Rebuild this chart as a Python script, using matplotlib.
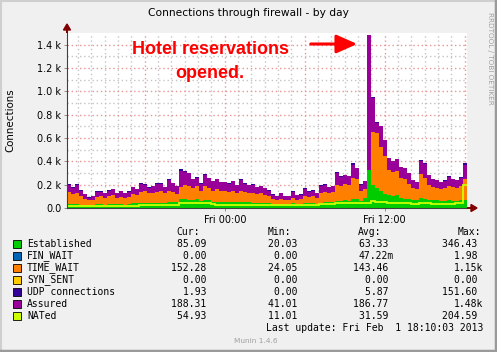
import numpy as np
import matplotlib
matplotlib.use("Agg")
import matplotlib.pyplot as plt
from matplotlib.patches import Rectangle

# samples: 100 steps of 18 min, graph starts Thu 12:10 (30 h window)
assured = [200, 175, 200, 150, 120, 90, 100, 140, 140, 125,
           150, 160, 125, 145, 130, 140, 180, 165, 205, 200,
           175, 185, 210, 210, 180, 240, 215, 185, 320, 310,
           300, 250, 260, 210, 280, 255, 230, 250, 225, 225,
           210, 230, 195, 240, 210, 195, 200, 180, 185, 170,
           150, 115, 100, 125, 105, 100, 140, 110, 115, 160,
           140, 150, 130, 185, 200, 180, 190, 300, 270, 280,
           275, 370, 340, 200, 230, 1480, 940, 730, 700, 580,
           430, 400, 420, 350, 340, 300, 240, 220, 400, 380,
           280, 250, 240, 225, 235, 265, 250, 240, 260, 370]
established = [35, 35, 38, 30, 30, 28, 30, 35, 32, 30,
               35, 35, 32, 35, 30, 35, 40, 40, 45, 45,
               40, 42, 45, 45, 45, 50, 50, 50, 75, 80,
               70, 65, 75, 60, 70, 65, 55, 55, 50, 55,
               50, 55, 50, 55, 50, 50, 45, 45, 45, 45,
               40, 35, 30, 35, 35, 35, 40, 35, 35, 40,
               40, 40, 35, 45, 50, 50, 50, 60, 60, 65,
               60, 80, 75, 60, 90, 330, 200, 170, 150, 120,
               110, 100, 110, 90, 80, 75, 70, 70, 90, 80,
               70, 65, 65, 60, 60, 65, 60, 60, 65, 70]
time_wait = [105, 85, 92, 70, 50, 37, 40, 60, 68, 55,
             65, 75, 58, 60, 55, 60, 80, 70, 95, 105,
             90, 83, 95, 100, 80, 100, 90, 70, 105, 120,
             120, 105, 110, 90, 120, 105, 95, 105, 95, 95,
             85, 95, 80, 95, 90, 75, 85, 75, 80, 65,
             60, 40, 35, 45, 35, 30, 50, 35, 40, 60,
             55, 60, 50, 85, 90, 80, 85, 140, 130, 145,
             140, 180, 175, 90, 70, 0, 450, 470, 370, 330,
             220, 210, 210, 170, 170, 135, 100, 90, 200, 180,
             130, 115, 105, 105, 110, 125, 120, 115, 120, 180]
udp = [2, 2, 2, 2, 2, 2, 2, 2, 2, 2,
       2, 2, 2, 2, 2, 2, 2, 2, 10, 2,
       2, 2, 8, 2, 2, 10, 2, 2, 12, 10,
       2, 2, 2, 2, 10, 2, 2, 2, 2, 2,
       2, 2, 2, 8, 2, 2, 2, 2, 2, 2,
       2, 2, 2, 2, 2, 2, 2, 2, 2, 10,
       2, 2, 2, 10, 2, 2, 2, 12, 2, 2,
       2, 15, 2, 2, 2, 5, 15, 10, 2, 2,
       2, 2, 2, 2, 2, 2, 2, 2, 10, 2,
       2, 2, 2, 2, 2, 10, 2, 2, 2, 12]
nated = [18, 18, 18, 18, 18, 18, 18, 18, 18, 18,
         18, 20, 20, 20, 20, 20, 20, 20, 22, 22,
         22, 22, 22, 25, 25, 25, 25, 30, 40, 45,
         45, 40, 45, 40, 45, 40, 35, 30, 30, 30,
         28, 28, 28, 28, 28, 25, 25, 25, 25, 25,
         25, 22, 22, 25, 25, 25, 30, 30, 30, 30,
         30, 30, 30, 35, 35, 35, 35, 40, 40, 40,
         40, 40, 45, 40, 40, 45, 60, 55, 50, 50,
         45, 45, 45, 40, 40, 40, 35, 35, 40, 40,
         40, 35, 35, 35, 35, 35, 35, 40, 40, 200]

names = ["Established", "FIN_WAIT", "TIME_WAIT", "SYN_SENT",
         "UDP connections", "Assured", "NATed"]
colors = ["#00CC00", "#0066B3", "#FF8000", "#FFCC00",
          "#330099", "#990099", "#CCFF00"]
cur_vals = ["85.09 ", "0.00 ", "152.28 ", "0.00 ", "1.93 ", "188.31 ", "54.93 "]
min_vals = ["20.03 ", "0.00 ", "24.05 ", "0.00 ", "0.00 ", "41.01 ", "11.01 "]
avg_vals = ["63.33 ", "47.22m", "143.46 ", "0.00 ", "5.87 ", "186.77 ", "31.59 "]
max_vals = ["346.43 ", "1.98 ", "1.15k", "0.00 ", "151.60 ", "1.48k", "204.59 "]

ytick_vals = [0, 200, 400, 600, 800, 1000, 1200, 1400]
ytick_labels = ["0.0", "0.2 k", "0.4 k", "0.6 k", "0.8 k", "1.0 k", "1.2 k", "1.4 k"]
xtick_hours = [11.8333, 23.8333]
xtick_labels = ["Fri 00:00", "Fri 12:00"]

W, H = 497, 352
bg = "#F0F0F0"
fig = plt.figure(figsize=(W / 100, H / 100), dpi=100, facecolor=bg)


def fx(x):
    return x / W


def fy(y):
    return 1 - y / H


ax = fig.add_axes([fx(67), fy(208), 400 / W, 175 / H])
ax.set_facecolor("white")

A = np.array(assured, float)
E = np.array(established, float)
T = np.array(time_wait, float)
U = np.array(udp, float)
N = np.array(nated, float)
edges = np.arange(len(A) + 1) * 0.3

# grid (behind data)
for h in np.arange(0.8333, 30, 1.0):
    major = abs(((h - 5.8333) / 6) - round((h - 5.8333) / 6)) < 0.01
    ax.axvline(h, color="#E89494" if major else "#C4C4C4",
               lw=1.0, ls=(0, (1, 2)), zorder=0)
for v in range(100, 1500, 100):
    major = v % 200 == 0
    ax.axhline(v, color="#E89494" if major else "#C4C4C4",
               lw=1.0, ls=(0, (1, 2)), zorder=0)

ax.stairs(A, edges, baseline=0, fill=True, color=colors[5], zorder=2)
ax.stairs(E, edges, baseline=0, fill=True, color=colors[0], zorder=3)
ax.stairs(E + T, edges, baseline=E, fill=True, color=colors[2], zorder=3)
top = np.maximum(A, E + T)
ax.stairs(top + U, edges, baseline=top, fill=True, color=colors[4], zorder=3)
ax.stairs(N, edges, baseline=None, color=colors[6], lw=1.3, zorder=4)

ax.set_xlim(0, 30)
ax.set_ylim(0, 1500)
for s in ["top", "right"]:
    ax.spines[s].set_visible(False)
for s in ["left", "bottom"]:
    ax.spines[s].set_color("#404040")
    ax.spines[s].set_linewidth(0.8)
    ax.spines[s].set_zorder(5)
ax.set_yticks(ytick_vals)
ax.set_yticklabels(ytick_labels)
ax.set_xticks(xtick_hours)
ax.set_xticklabels(xtick_labels)
ax.tick_params(axis="both", length=2, width=0.6, color="#808080",
               labelsize=7, labelcolor="#000000", pad=2)
ax.tick_params(axis="x", pad=3)

# axis arrows
fig.patches.append(matplotlib.patches.FancyArrow(
    fx(467), fy(208), 4 / W, 0, width=0.0, head_width=7 / H, head_length=6 / W,
    color="#800000", transform=fig.transFigure, length_includes_head=False))
fig.patches.append(matplotlib.patches.FancyArrow(
    fx(67), fy(33), 0, 3 / H, width=0.0, head_width=7 / W, head_length=6 / H,
    color="#800000", transform=fig.transFigure, length_includes_head=False))

# titles
fig.text(fx(248), fy(13), "Connections through firewall - by day",
         ha="center", va="center", fontsize=7.7, color="#000000")
fig.text(fx(10), fy(120), "Connections", rotation=90,
         ha="center", va="center", fontsize=7.4, color="#000000")
fig.text(fx(490), fy(12), "RRDTOOL / TOBI OETIKER", rotation=270,
         ha="center", va="top", fontsize=5.2, color="#A0A0A0")

# annotation
fig.text(fx(211), fy(49), "Hotel reservations", ha="center", va="center",
         fontsize=13, fontweight="bold", color="#FF0000", family="Liberation Sans")
fig.text(fx(210), fy(73), "opened.", ha="center", va="center",
         fontsize=13, fontweight="bold", color="#FF0000", family="Liberation Sans")
fig.add_artist(matplotlib.patches.FancyArrowPatch(
    (fx(308), fy(44)), (fx(360), fy(44)), transform=fig.transFigure,
    arrowstyle="-|>,head_length=0.9,head_width=0.4", mutation_scale=14,
    lw=2.2, color="#FF0000"))

# legend
mono = dict(family="DejaVu Sans Mono", fontsize=7, color="#000000", va="center")
fig.text(fx(176), fy(232), "Cur:", ha="left", **mono)
fig.text(fx(268), fy(232), "Min:", ha="left", **mono)
fig.text(fx(358), fy(232), "Avg:", ha="left", **mono)
fig.text(fx(458), fy(232), "Max:", ha="left", **mono)
for i, name in enumerate(names):
    y = 244 + 12 * i
    fig.add_artist(Rectangle((fx(13), fy(y + 4)), 8 / W, 8 / H,
                             facecolor=colors[i], edgecolor="#000000", lw=0.6,
                             transform=fig.transFigure))
    fig.text(fx(27), fy(y), name, ha="left", **mono)
    fig.text(fx(212), fy(y), cur_vals[i], ha="right", **mono)
    fig.text(fx(303), fy(y), min_vals[i], ha="right", **mono)
    fig.text(fx(394), fy(y), avg_vals[i], ha="right", **mono)
    fig.text(fx(483), fy(y), max_vals[i], ha="right", **mono)
fig.text(fx(489), fy(328), "Last update: Fri Feb  1 18:10:03 2013 ", ha="right", **mono)
fig.text(fx(256), fy(341), "Munin 1.4.6", ha="center", va="center",
         fontsize=5.3, color="#A0A0A0")

# border bevel
fig.add_artist(plt.Line2D([0, 1], [fy(0.5), fy(0.5)], color="#CFCFCF", lw=1.5,
                          transform=fig.transFigure))
fig.add_artist(plt.Line2D([fx(0.5), fx(0.5)], [0, 1], color="#CFCFCF", lw=1.5,
                          transform=fig.transFigure))
fig.add_artist(plt.Line2D([0, 1], [fy(351), fy(351)], color="#9A9A9A", lw=2.5,
                          transform=fig.transFigure))
fig.add_artist(plt.Line2D([fx(496), fx(496)], [0, 1], color="#9A9A9A", lw=2.5,
                          transform=fig.transFigure))

fig.savefig("out.png", dpi=100, facecolor=bg)
